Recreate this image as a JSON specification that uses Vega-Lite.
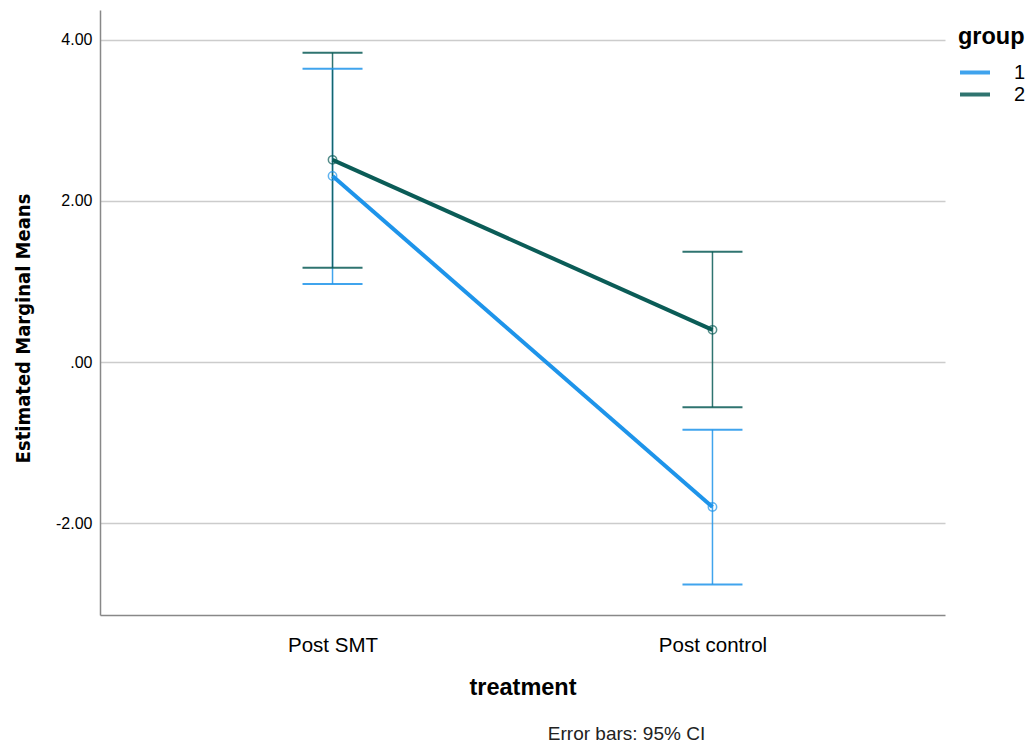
{
  "$schema": "https://vega.github.io/schema/vega-lite/v6.json",
  "width": 845,
  "height": 605,
  "autosize": {"type": "none"},
  "padding": {"left": 100, "top": 10, "right": 85, "bottom": 132},
  "background": "white",
  "title": {
    "text": "Error bars: 95% CI",
    "orient": "bottom",
    "anchor": "middle",
    "dx": 104,
    "offset": 26,
    "font": "Liberation Sans",
    "fontSize": 19,
    "fontWeight": "normal",
    "color": "#222222"
  },
  "data": {
    "values": [
      {"treatment": "Post SMT", "group": "1", "mean": 2.31, "lo": 0.97, "hi": 3.64},
      {"treatment": "Post control", "group": "1", "mean": -1.80, "lo": -2.76, "hi": -0.84},
      {"treatment": "Post SMT", "group": "2", "mean": 2.51, "lo": 1.17, "hi": 3.84},
      {"treatment": "Post control", "group": "2", "mean": 0.40, "lo": -0.56, "hi": 1.37}
    ]
  },
  "encoding": {
    "x": {
      "field": "treatment",
      "type": "nominal",
      "sort": ["Post SMT", "Post control"],
      "scale": {"type": "point", "padding": 0.612},
      "axis": {
        "title": "treatment",
        "titleFont": "Liberation Sans",
        "titleFontSize": 23.5,
        "titleFontWeight": "bold",
        "titleColor": "#000000",
        "titlePadding": 20,
        "labelFont": "Liberation Sans",
        "labelFontSize": 20.5,
        "labelColor": "#000000",
        "labelPadding": 20,
        "labelAngle": 0,
        "ticks": false,
        "domainColor": "#888888",
        "domainWidth": 1.5,
        "grid": false
      }
    },
    "color": {
      "field": "group",
      "type": "nominal",
      "scale": {"domain": ["1", "2"], "range": ["#1e94ea", "#0b5c57"]},
      "legend": {
        "title": "group",
        "orient": "none",
        "legendX": 858,
        "legendY": 15,
        "titleFont": "Liberation Sans",
        "titleFontSize": 23.5,
        "titleFontWeight": "bold",
        "titleColor": "#000000",
        "titlePadding": 14,
        "labelFont": "Liberation Sans",
        "labelFontSize": 20,
        "labelColor": "#000000",
        "labelOffset": 22,
        "symbolType": "stroke",
        "symbolSize": 900,
        "symbolStrokeWidth": 4,
        "clipHeight": 20,
        "rowPadding": 2
      }
    }
  },
  "layer": [
    {
      "mark": {"type": "rule", "strokeWidth": 1.5, "opacity": 0.85},
      "encoding": {
        "y": {"field": "lo", "type": "quantitative"},
        "y2": {"field": "hi"}
      }
    },
    {
      "mark": {"type": "tick", "size": 60, "thickness": 2, "opacity": 0.85},
      "encoding": {"y": {"field": "lo", "type": "quantitative"}}
    },
    {
      "mark": {"type": "tick", "size": 60, "thickness": 2, "opacity": 0.85},
      "encoding": {"y": {"field": "hi", "type": "quantitative"}}
    },
    {
      "mark": {"type": "line", "strokeWidth": 4},
      "encoding": {
        "y": {
          "field": "mean",
          "type": "quantitative",
          "scale": {"domain": [-3.14, 4.37], "nice": false, "zero": false},
          "axis": {
            "title": "Estimated Marginal Means",
            "titleFont": "DejaVu Sans Condensed, Liberation Sans, sans-serif",
            "titleFontSize": 20,
            "titleFontWeight": "bold",
            "titleColor": "#000000",
            "titlePadding": 22,
            "titleY": 318,
            "values": [-2, 0, 2, 4],
            "labelExpr": "datum.value == 0 ? '.00' : (datum.value < 0 ? '-' : '') + format(abs(datum.value), '.2f')",
            "labelFont": "Liberation Sans",
            "labelFontSize": 16,
            "labelColor": "#000000",
            "labelPadding": 8,
            "ticks": false,
            "domainColor": "#888888",
            "domainWidth": 1.5,
            "grid": true,
            "gridColor": "#cccccc",
            "gridWidth": 1.5
          }
        }
      }
    },
    {
      "mark": {"type": "point", "shape": "circle", "filled": false, "size": 70, "strokeWidth": 1.5},
      "encoding": {"y": {"field": "mean", "type": "quantitative"}}
    }
  ],
  "config": {"view": {"stroke": null}}
}
